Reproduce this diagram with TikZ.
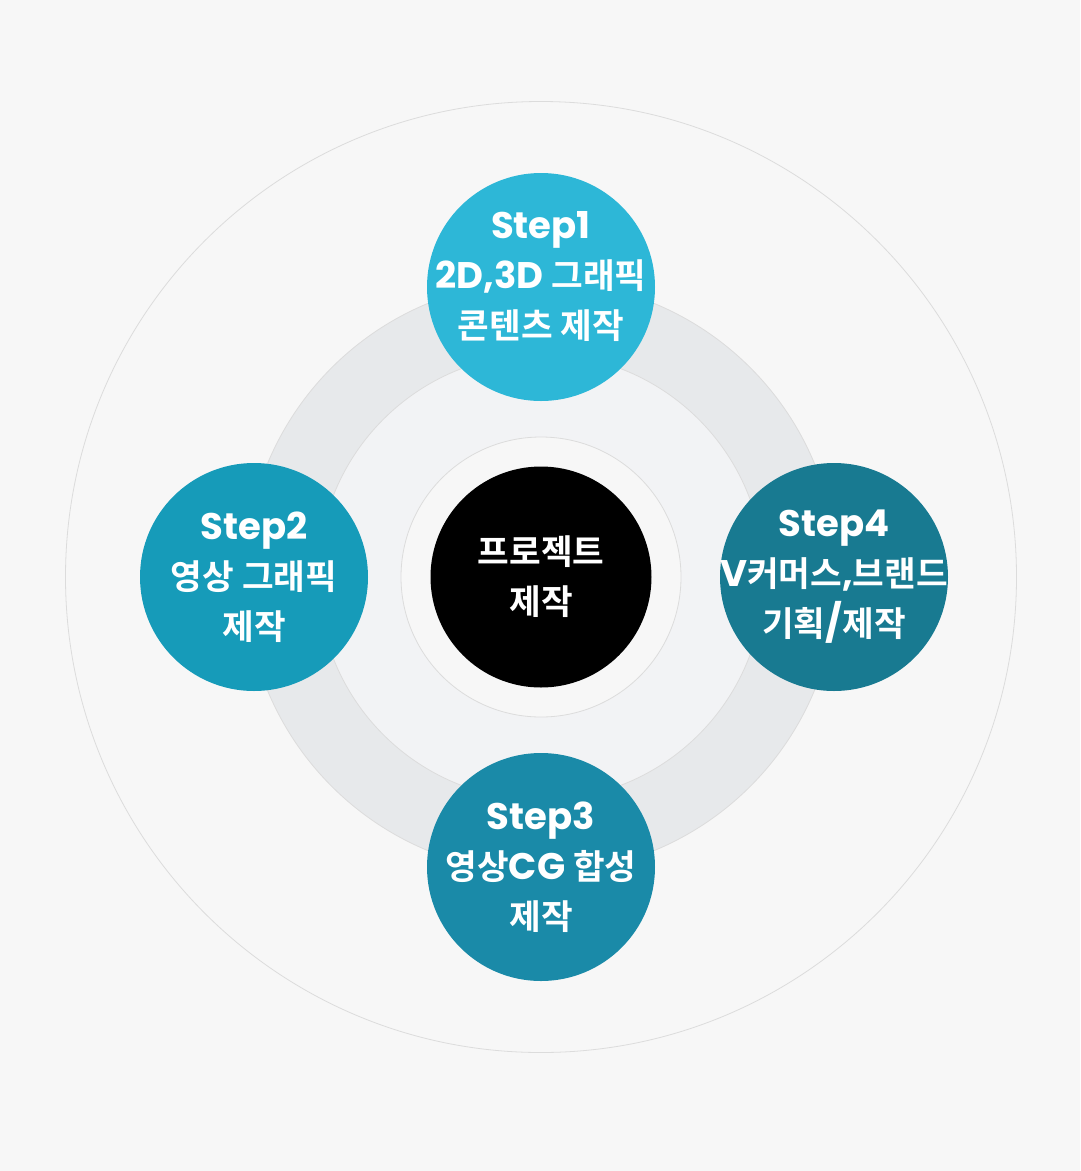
\documentclass[tikz,border=0pt]{standalone}
\usepackage{fontspec}
\setmainfont{Poppins}
\newfontfamily\krfont{Noto Sans CJK KR}[BoldFont={* Bold}, Scale=0.93]
\newcommand{\kr}[1]{{\krfont\bfseries #1}}
\usetikzlibrary{positioning}
\definecolor{bgc}{HTML}{F7F7F7}
\definecolor{ringc}{HTML}{E7E9EB}
\definecolor{innerc}{HTML}{F2F3F5}
\definecolor{linec}{HTML}{DCDCDC}
\definecolor{stepa}{HTML}{2DB7D7}
\definecolor{stepb}{HTML}{169BB9}
\definecolor{stepc}{HTML}{1A8AA8}
\definecolor{stepd}{HTML}{187A91}
\tikzset{
  stepcirc/.style={circle, minimum size=228pt, inner sep=0pt},
  steptext/.style={align=center, text=white, font=\fontsize{37}{50}\selectfont\bfseries},
}
\begin{document}
\begin{tikzpicture}[x=1pt,y=-1pt]
\fill[bgc] (0,0) rectangle (1080,1171);
\useasboundingbox (0,0) rectangle (1080,1171);
\coordinate (O) at (541,577);
% rings
\draw[linec, line width=0.8pt] (O) circle (475.5pt);
\draw[linec, line width=0.8pt, fill=ringc] (O) circle (296pt);
\draw[linec, line width=0.8pt, fill=innerc] (O) circle (223pt);
\draw[linec, line width=0.8pt, fill=bgc] (O) circle (140pt);
% center
\node[circle, fill=black, minimum size=221pt, inner sep=0pt] (core) at (O) {};
\node[steptext] (coretext) at (O) {\kr{프로젝트}\\\kr{제작}};
% steps
\node[stepcirc, fill=stepa] (s1) at (541,287) {};
\node[stepcirc, fill=stepb] (s2) at (254,577) {};
\node[stepcirc, fill=stepc] (s3) at (541,867) {};
\node[stepcirc, fill=stepd] (s4) at (834,577) {};
\node[steptext] (t1) at ([yshift=10pt]s1.center) {Step1\\2D,3D \kr{그래픽}\\\kr{콘텐츠 제작}};
\node[steptext] (t2) at (s2.center) {Step2\\\kr{영상 그래픽}\\\kr{제작}};
\node[steptext] (t3) at (s3.center) {Step3\\\kr{영상}CG \kr{합성}\\\kr{제작}};
\node[steptext] (t4) at (s4.center) {Step4\\V\kr{커머스},\kr{브랜드}\\\kr{기획}/\kr{제작}};
\end{tikzpicture}
\end{document}
